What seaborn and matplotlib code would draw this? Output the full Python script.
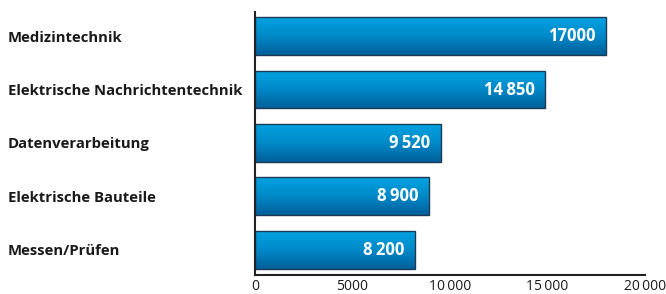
import matplotlib
matplotlib.use("Agg")
import matplotlib.pyplot as plt
import seaborn as sns
import numpy as np
import pandas as pd
from matplotlib.colors import LinearSegmentedColormap

categories = ["Medizintechnik", "Elektrische Nachrichtentechnik", "Datenverarbeitung",
              "Elektrische Bauteile", "Messen/Prüfen"]
# bar lengths as drawn in the reference
values = [18000, 14850, 9520, 8900, 8200]
value_labels = ["17000", "14\u2009850", "9\u2009520", "8\u2009900", "8\u2009200"]
xticks = [0, 5000, 10000, 15000, 20000]
xtick_labels = ["0", "5000", "10\u2009000", "15\u2009000", "20\u2009000"]

sns.set_theme(style="white")
plt.rcParams['font.family'] = ['Open Sans', 'DejaVu Sans']

df = pd.DataFrame({"cat": categories, "val": values})

fig = plt.figure(figsize=(6.66, 2.94), dpi=100)
ax = fig.add_axes([255/666, 1-275/294, 390/666, (275-12)/294])

sns.barplot(data=df, y="cat", x="val", orient="h", ax=ax, width=0.71,
            color="#0090d0", edgecolor="#1b3a55", linewidth=1.0, saturation=1)

cmap = LinearSegmentedColormap.from_list("g", ["#00a2e2", "#0089c8", "#00609a"])
grad = np.linspace(0, 1, 64).reshape(-1, 1)
for p in list(ax.patches):
    x0, y0 = p.get_x(), p.get_y()
    w, h = p.get_width(), p.get_height()
    im = ax.imshow(grad, cmap=cmap, aspect="auto",
                   extent=[x0, x0 + w, y0 + h, y0], zorder=p.get_zorder() + 0.1)
    im.set_clip_path(p)
    p.set_facecolor("none")
    p.set_zorder(p.get_zorder() + 0.2)

for i, (v, lab) in enumerate(zip(values, value_labels)):
    ax.text(v - 520, i, lab, ha="right", va="center", color="white",
            fontsize=12, fontweight="bold", zorder=5)

ax.set_xlim(0, 20000)
ax.set_ylim(4.47, -0.45)
ax.set_xticks(xticks)
ax.set_xticklabels(xtick_labels, fontsize=10, color="#1a1a1a")
ax.set_xlabel("")
ax.set_ylabel("")
ax.set_yticks(range(len(categories)))
ax.set_yticklabels(categories, fontsize=10.7, fontweight="bold", color="#1a1a1a")
for lab in ax.get_yticklabels():
    lab.set_horizontalalignment("left")
ax.tick_params(axis="y", length=0, pad=247 * 72 / 100)
ax.tick_params(axis="x", direction="in", length=5, width=1.5, color="#222222", pad=3)
for s in ["top", "right"]:
    ax.spines[s].set_visible(False)
for s in ["left", "bottom"]:
    ax.spines[s].set_color("#222222")
    ax.spines[s].set_linewidth(1.5)
ax.set_facecolor("white")

fig.savefig("out.png", dpi=100, facecolor="white")
